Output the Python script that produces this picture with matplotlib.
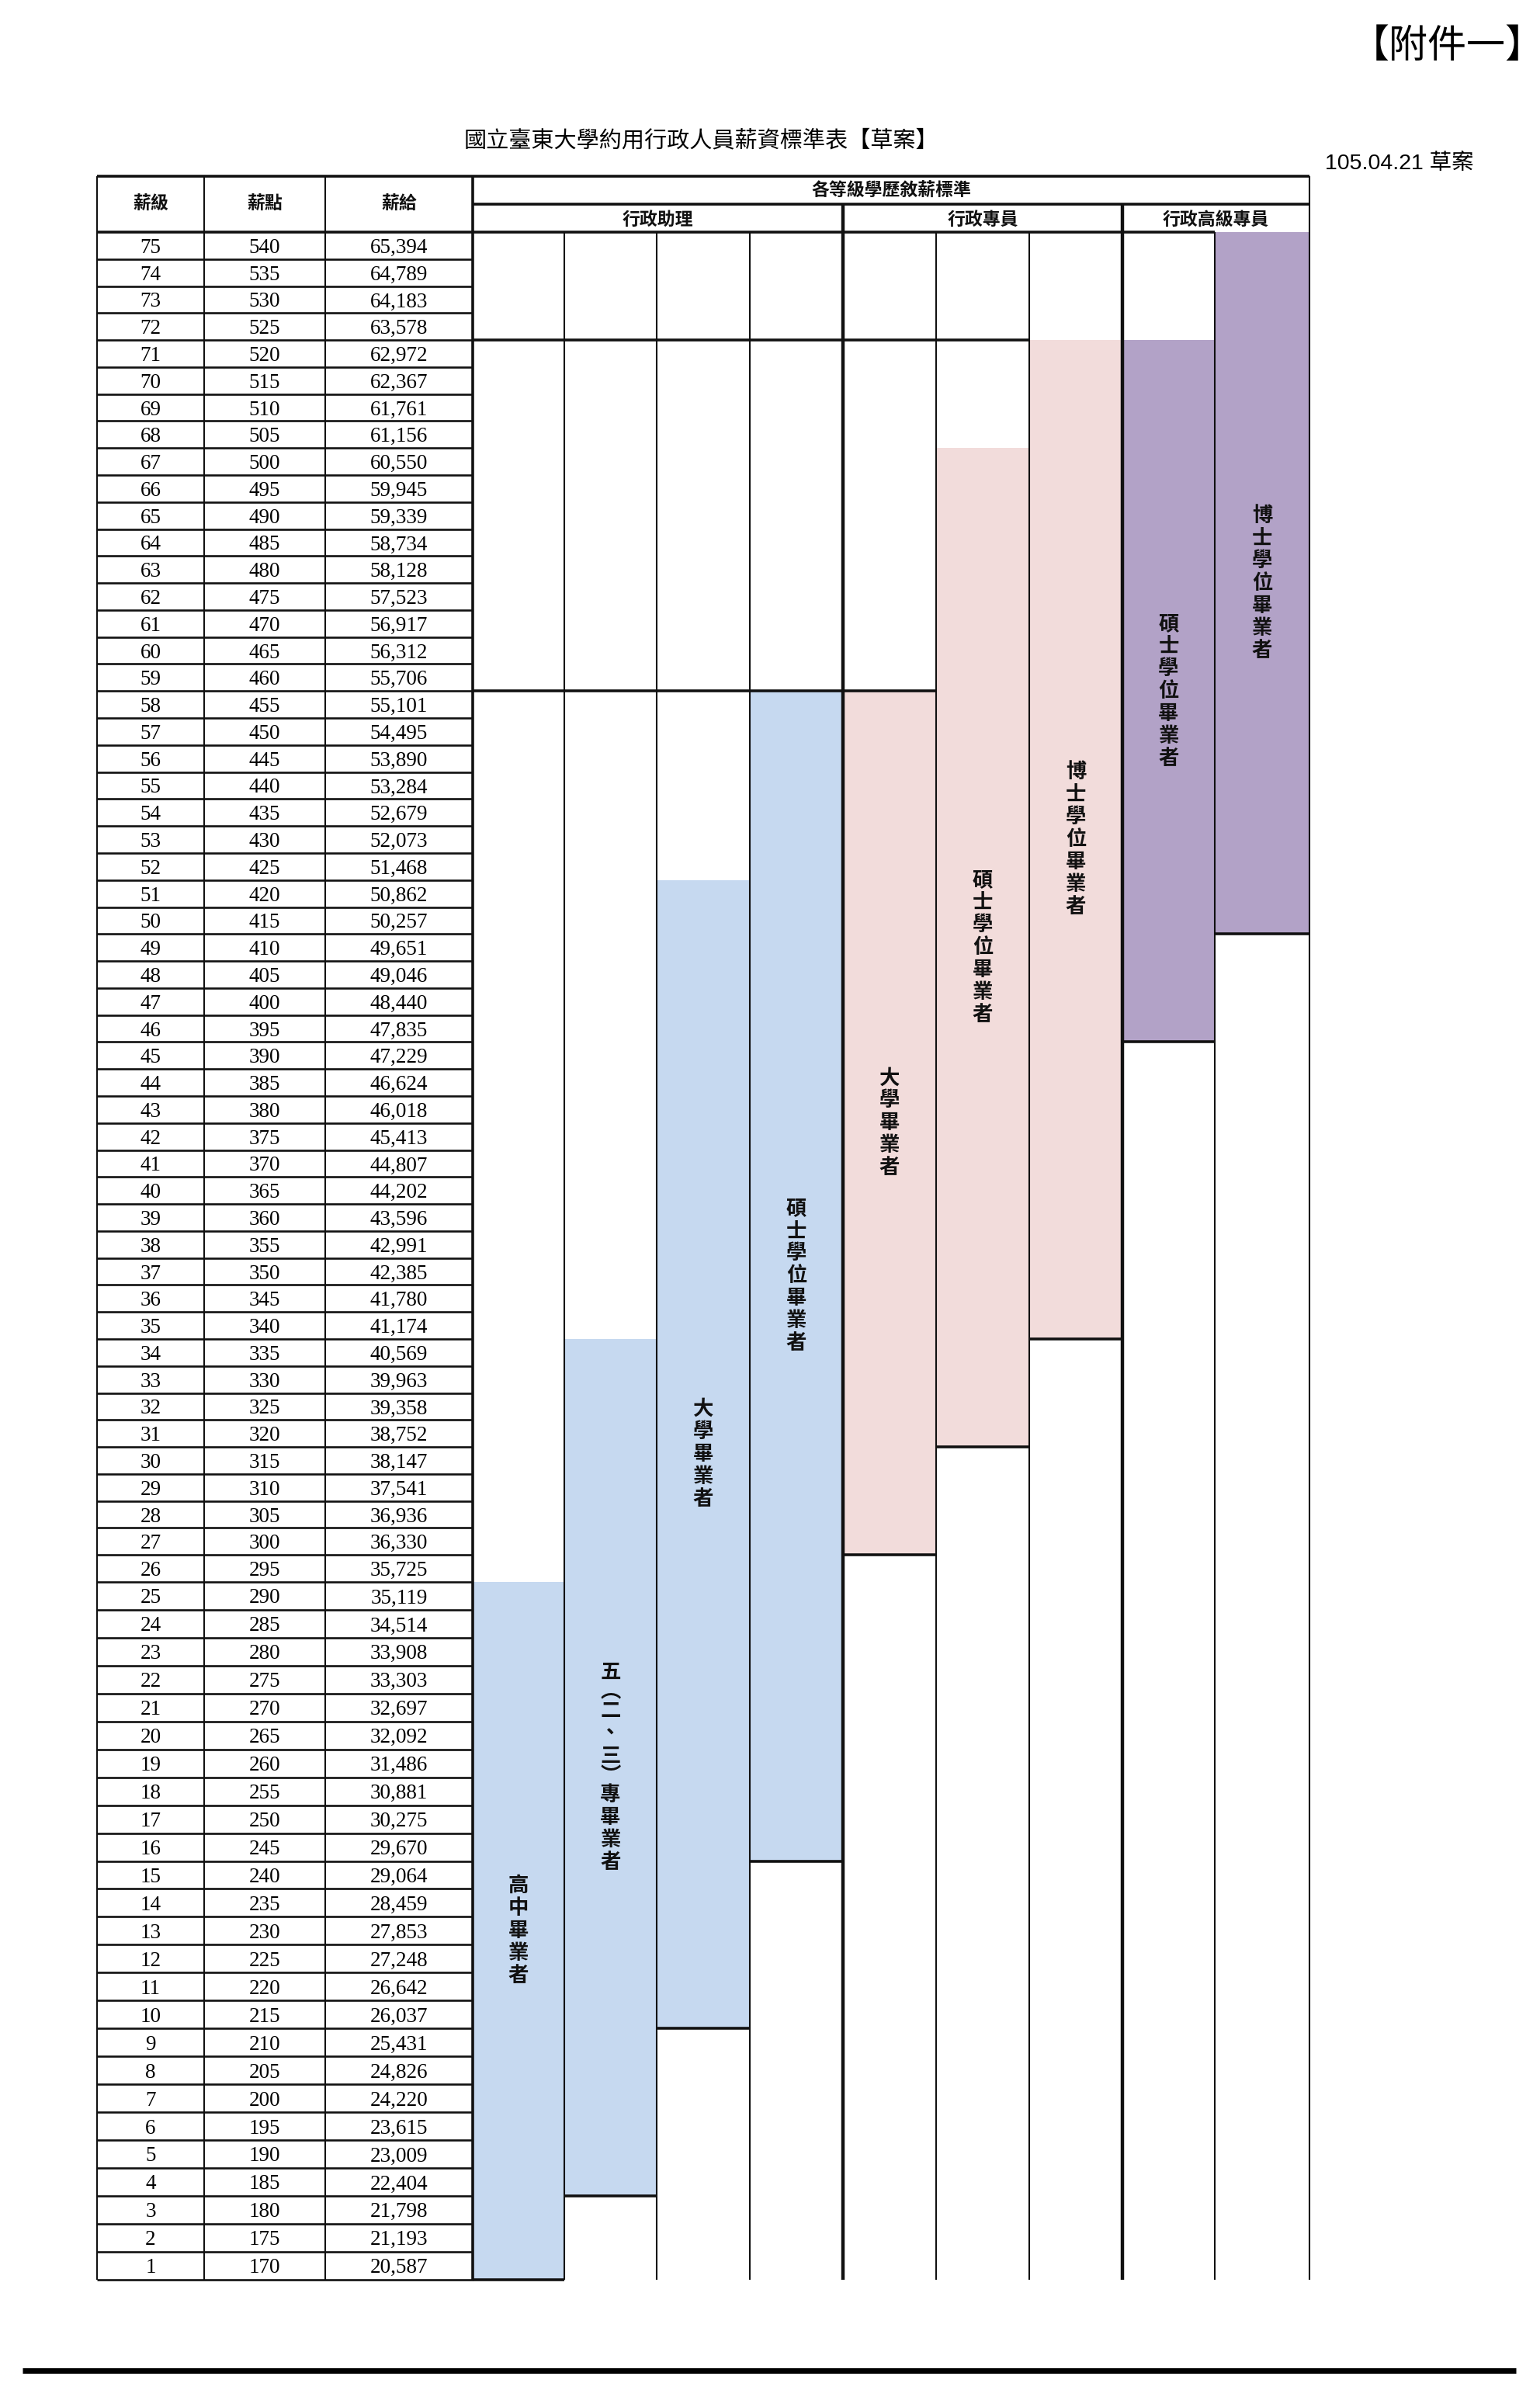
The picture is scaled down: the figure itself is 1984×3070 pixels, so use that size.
import matplotlib
matplotlib.use('Agg')
import matplotlib.pyplot as plt
import numpy as np

plt.rcParams['font.family'] = ['Noto Sans CJK TC', 'DejaVu Sans']

# ---- table data ----
grades = [75, 74, 73, 72, 71, 70, 69, 68, 67, 66, 65, 64, 63, 62, 61, 60, 59, 58,
          57, 56, 55, 54, 53, 52, 51, 50, 49, 48, 47, 46, 45, 44, 43, 42, 41, 40,
          39, 38, 37, 36, 35, 34, 33, 32, 31, 30, 29, 28, 27, 26, 25, 24, 23, 22,
          21, 20, 19, 18, 17, 16, 15, 14, 13, 12, 11, 10, 9, 8, 7, 6, 5, 4, 3, 2, 1]
points = [540, 535, 530, 525, 520, 515, 510, 505, 500, 495, 490, 485, 480, 475,
          470, 465, 460, 455, 450, 445, 440, 435, 430, 425, 420, 415, 410, 405,
          400, 395, 390, 385, 380, 375, 370, 365, 360, 355, 350, 345, 340, 335,
          330, 325, 320, 315, 310, 305, 300, 295, 290, 285, 280, 275, 270, 265,
          260, 255, 250, 245, 240, 235, 230, 225, 220, 215, 210, 205, 200, 195,
          190, 185, 180, 175, 170]
salaries = [65394, 64789, 64183, 63578, 62972, 62367, 61761, 61156, 60550, 59945,
            59339, 58734, 58128, 57523, 56917, 56312, 55706, 55101, 54495, 53890,
            53284, 52679, 52073, 51468, 50862, 50257, 49651, 49046, 48440, 47835,
            47229, 46624, 46018, 45413, 44807, 44202, 43596, 42991, 42385, 41780,
            41174, 40569, 39963, 39358, 38752, 38147, 37541, 36936, 36330, 35725,
            35119, 34514, 33908, 33303, 32697, 32092, 31486, 30881, 30275, 29670,
            29064, 28459, 27853, 27248, 26642, 26037, 25431, 24826, 24220, 23615,
            23009, 22404, 21798, 21193, 20587]

left_headers = ['薪級', '薪點', '薪給']
top_header = '各等級學歷敘薪標準'
group_names = ['行政助理', '行政專員', '行政高級專員']
group_first = [1, 5, 8]
group_last = [4, 7, 9]

# salary bands per column (highest grade, lowest grade)
band_col = [1, 2, 3, 4, 5, 6, 7, 8, 9]
band_top = [25, 34, 51, 58, 58, 67, 71, 71, 75]
band_bottom = [1, 4, 10, 16, 27, 31, 35, 46, 50]
band_text = ['高中畢業者', '五︵二、三︶專畢業者', '大學畢業者', '碩士學位畢業者',
             '大學畢業者', '碩士學位畢業者', '博士學位畢業者', '碩士學位畢業者',
             '博士學位畢業者']
band_color = ['#c6d9f0'] * 4 + ['#f2dcdb'] * 3 + ['#b2a2c7'] * 2

# horizontal section breaks inside the band area (line under grade, columns spanned)
break_grade = [72, 59]
break_ncols = [6, 5]

# ---- page layout (pixels) ----
W, H = 1984, 3070
left_x = [125, 263, 419, 609]
band_x = [609, 727, 846, 966, 1086, 1206, 1326, 1446, 1565, 1687]
SPLIT = 2038.0      # top edge of grade 25 row
UP_H = 34.78        # row height, grades 26-75
LOW_H = 35.95       # row height, grades 1-25


def to_px(r):
    r = np.asarray(r, dtype=float)
    return np.where(r >= 25.5, SPLIT - (r - 25.5) * UP_H, SPLIT + (25.5 - r) * LOW_H)


def from_px(p):
    p = np.asarray(p, dtype=float)
    return np.where(p <= SPLIT, 25.5 + (SPLIT - p) / UP_H, 25.5 - (p - SPLIT) / LOW_H)


fig = plt.figure(figsize=(W / 100, H / 100), dpi=100)
ax = fig.add_axes([0, 0, 1, 1])
ax.set_xlim(0, W)
ax.set_yscale('function', functions=(lambda r: -to_px(r), lambda v: from_px(-v)))
ax.set_ylim(float(from_px(H)), float(from_px(0)))
ax.axis('off')

hdr_top = float(from_px(227))
hdr_mid = float(from_px(263))
hdr_bot = 75.5
tbl_bot = 0.5

thin, thick = 1.5, 2.6
ink = '#111111'

# bands
for c, t, b, col in zip(band_col, band_top, band_bottom, band_color):
    x0, x1 = band_x[c - 1], band_x[c]
    ax.bar((x0 + x1) / 2, t - b + 1, bottom=b - 0.5, width=x1 - x0,
           color=col, linewidth=0, zorder=1)
    ax.hlines(b - 0.5, x0, x1, color=ink, lw=thick, zorder=3)

# band labels, one character per line
for c, t, b, s in zip(band_col, band_top, band_bottom, band_text):
    xc = (band_x[c - 1] + band_x[c]) / 2
    yc = (to_px(t + 0.5) + to_px(b - 0.5)) / 2
    sizes = [21 if ch in '︵︶' else 29 for ch in s]
    pos = [0.0]
    for i in range(1, len(s)):
        pos.append(pos[-1] + (sizes[i - 1] + sizes[i]) / 2)
    pos = np.array(pos) - pos[-1] / 2
    for ch, p in zip(s, pos):
        ax.text(xc, float(from_px(yc + p)), ch, ha='center', va='center',
                fontsize=19, fontweight='bold', color=ink, zorder=4)

# left table rows
for g, pt, sal in zip(grades, points, salaries):
    for k, txt in enumerate([str(g), str(pt), f'{sal:,}']):
        ax.text((left_x[k] + left_x[k + 1]) / 2, g, txt, ha='center',
                va='center_baseline', fontsize=19.5, family='Liberation Serif',
                color='black', zorder=4)
    ax.hlines(g - 0.5, left_x[0], left_x[-1], color=ink, lw=1.9, zorder=3)

# section breaks in band area
for g, n in zip(break_grade, break_ncols):
    ax.hlines(g - 0.5, band_x[0], band_x[n], color=ink, lw=thick, zorder=3)

# header lines
ax.hlines(hdr_top, left_x[0], band_x[-1], color=ink, lw=thick, zorder=3)
ax.hlines(hdr_mid, band_x[0], band_x[-1], color=ink, lw=thick, zorder=3)
ax.hlines(hdr_bot, left_x[0], band_x[-2], color=ink, lw=thick, zorder=3)

# vertical lines
for x in left_x[:-1]:
    ax.vlines(x, tbl_bot, hdr_top, color=ink, lw=thin, zorder=3)
ax.vlines(band_x[0], tbl_bot, hdr_top, color=ink, lw=thick, zorder=3)
ax.vlines(band_x[-1], tbl_bot, hdr_top, color=ink, lw=thin, zorder=3)
for i in range(1, len(band_x) - 1):
    if i + 1 in group_first:
        ax.vlines(band_x[i], tbl_bot, hdr_mid, color=ink, lw=thick + 0.6, zorder=3)
    else:
        ax.vlines(band_x[i], tbl_bot, hdr_bot, color=ink, lw=thin, zorder=3)

# header texts
hy = float(from_px(263))
for k, s in enumerate(left_headers):
    ax.text((left_x[k] + left_x[k + 1]) / 2, hy, s, ha='center', va='center',
            fontsize=16.5, fontweight='bold', color=ink)
ax.text((band_x[0] + band_x[-1]) / 2, float(from_px(246)), top_header,
        ha='center', va='center', fontsize=16.5, fontweight='bold', color=ink)
for s, a, b in zip(group_names, group_first, group_last):
    ax.text((band_x[a - 1] + band_x[b]) / 2, float(from_px(283)), s,
            ha='center', va='center', fontsize=16.5, fontweight='bold', color=ink)

# page texts
fig.text(1990 / W, 1 - 60 / H, '【附件一】', ha='right', va='center',
         fontsize=36, color='black')
fig.text(903 / W, 1 - 181 / H, '國立臺東大學約用行政人員薪資標準表【草案】',
         ha='center', va='center', fontsize=21, color='black')
fig.text(1707 / W, 1 - 211 / H, '105.04.21 草案', ha='left', va='center',
         fontsize=20.5, family=['Liberation Sans', 'Noto Sans CJK TC'], color='black')

# bottom rule
ax.hlines(float(from_px(3054)), 29, 1953, color='black', lw=5.2)

fig.savefig('out.png', dpi=100, facecolor='white')
